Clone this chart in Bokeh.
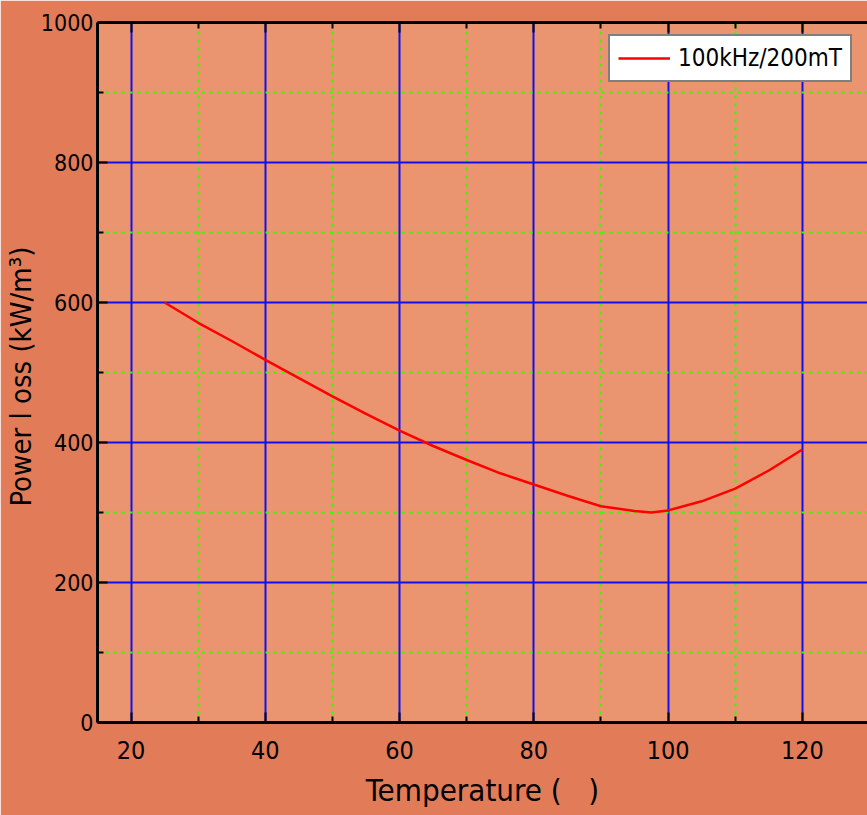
from bokeh.plotting import figure
from bokeh.models import Range1d, LinearAxis, Legend, LegendItem, FixedTicker
from bokeh.embed import file_html
from bokeh.resources import INLINE

temperature = [25, 30, 35, 40, 45, 50, 55, 60, 65, 70, 75, 80, 85, 90, 95, 97.5, 100, 105, 110, 115, 120]
power_loss = [600, 571, 545, 518, 492, 466, 441, 417, 395, 375, 356, 340, 324, 309, 302, 300, 303, 316, 334, 360, 390]
series_name = "100kHz/200mT"
x_ticks = [20, 40, 60, 80, 100, 120]
x_minor = [30, 50, 70, 90, 110]
y_ticks = [0, 200, 400, 600, 800, 1000]
y_minor = [100, 300, 500, 700, 900]
x_title = "Temperature (\u00a0\u00a0\u00a0)"
y_title = "Power l oss  (kW/m³)"

FONT = "'DejaVu Sans Condensed', 'Liberation Sans Narrow', sans-serif"

p = figure(width=867, height=815, output_backend="svg", toolbar_location=None,
           x_range=Range1d(15, 129.7), y_range=Range1d(0, 1000),
           min_border_left=96, min_border_top=22, min_border_bottom=93, min_border_right=0,
           x_axis_location=None, y_axis_location=None)

p.background_fill_color = "#EA9570"
p.border_fill_color = "#E27C58"
p.outline_line_color = None

def style_axis(ax):
    ax.axis_line_color = "black"
    ax.axis_line_width = 3
    ax.major_tick_in = 10
    ax.major_tick_out = 0
    ax.minor_tick_in = 6
    ax.minor_tick_out = 0
    ax.major_tick_line_color = "black"
    ax.major_tick_line_width = 2
    ax.minor_tick_line_color = "black"
    ax.minor_tick_line_width = 2
    ax.major_label_text_font = FONT
    ax.major_label_text_font_size = "24px"
    ax.major_label_text_color = "black"
    ax.axis_label_text_font = FONT
    ax.axis_label_text_font_size = "30px"
    ax.axis_label_text_font_style = "normal"
    ax.axis_label_text_color = "black"

xt = FixedTicker(ticks=x_ticks, minor_ticks=x_minor)
yt = FixedTicker(ticks=y_ticks, minor_ticks=y_minor)

xaxis = LinearAxis(ticker=xt, axis_label=x_title)
style_axis(xaxis)
xaxis.major_label_text_font_size = "25px"
xaxis.axis_label_text_font_size = "31px"
xaxis.major_label_standoff = 18
xaxis.axis_label_standoff = 10
p.add_layout(xaxis, "below")

xtop = LinearAxis(ticker=xt)
style_axis(xtop)
xtop.major_label_text_color = None
xtop.major_label_text_font_size = "1px"
xtop.major_label_standoff = 0
p.add_layout(xtop, "above")

yaxis = LinearAxis(ticker=yt, axis_label=y_title)
style_axis(yaxis)
yaxis.major_label_text_font_size = "23px"
yaxis.axis_label_text_font_size = "29px"
yaxis.major_label_standoff = 4
yaxis.axis_label_standoff = 0
p.add_layout(yaxis, "left")

# grids
p.xgrid.ticker = xt
p.ygrid.ticker = yt
for g in (p.xgrid, p.ygrid):
    g.grid_line_color = "#1010F0"
    g.grid_line_width = 2
    g.minor_grid_line_color = "#33FF00"
    g.minor_grid_line_width = 2
    g.minor_grid_line_dash = "3 5"

r = p.line(temperature, power_loss, line_color="red", line_width=2.5, line_join="round")

legend = Legend(items=[LegendItem(label=series_name, renderers=[r])], location=(511, 640))
legend.background_fill_color = "white"
legend.background_fill_alpha = 1
legend.border_line_color = "black"
legend.border_line_width = 2
legend.label_text_font = FONT
legend.label_text_font_size = "24px"
legend.label_text_color = "black"
legend.glyph_width = 52
legend.padding = 8
legend.margin = 0
legend.label_standoff = 8
p.add_layout(legend, "center")

open("out.html", "w").write(file_html(p, INLINE))
